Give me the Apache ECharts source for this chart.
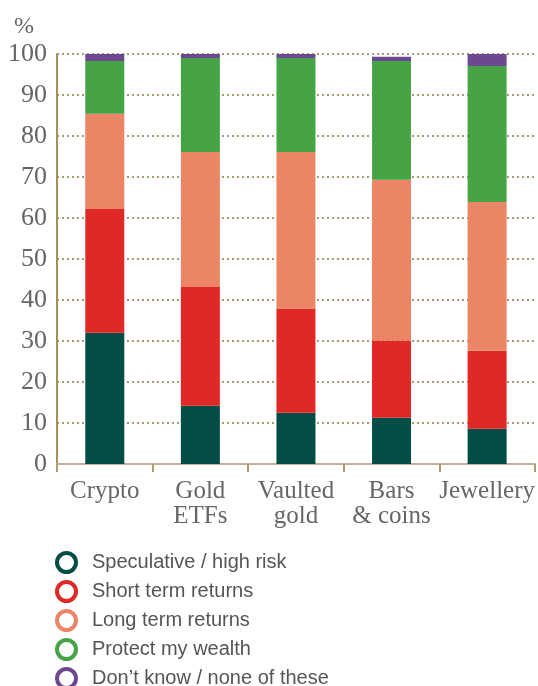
<!DOCTYPE html>
<html><head><meta charset="utf-8">
<script src="https://cdn.jsdelivr.net/npm/echarts@6/dist/echarts.min.js"></script>
<style>html,body{margin:0;padding:0;background:#fff}#c{width:538px;height:686px}</style>
</head><body><div id="c"></div>
<script>
const categories = ['Crypto', 'Gold\nETFs', 'Vaulted\ngold', 'Bars\n& coins', 'Jewellery'];
const seriesNames = ['Speculative / high risk', 'Short term returns', 'Long term returns', 'Protect my wealth', 'Don\u2019t know / none of these'];
const speculative = [32.0, 14.2, 12.5, 11.3, 8.6];
const shortTerm = [30.2, 29.0, 25.4, 18.8, 19.0];
const longTerm = [23.2, 32.9, 38.2, 39.2, 36.3];
const protectWealth = [12.9, 22.9, 22.9, 29.0, 33.2];
const dontKnow = [1.7, 1.0, 1.0, 1.0, 2.9];
const yTicks = [0, 10, 20, 30, 40, 50, 60, 70, 80, 90, 100];
const colors = ['#024d45', '#e02826', '#eb8566', '#46a447', '#6b4890'];
const values = [speculative, shortTerm, longTerm, protectWealth, dontKnow];

const chart = echarts.init(document.getElementById('c'), null, {renderer: 'canvas'});
const serif = '"Liberation Serif", "DejaVu Serif", serif';
const legendItems = seriesNames.map((n, i) => ({name: n, itemStyle: {color: '#fff', borderColor: colors[i], borderWidth: 4}}));
const legendBase = {
  orient: 'vertical', left: 55, padding: 0, itemWidth: 19, itemHeight: 19, itemGap: 6,
  icon: 'circle',
  textStyle: {fontFamily: '"Liberation Sans", Arial, sans-serif', fontSize: 20, color: '#555', padding: [0, 0, 0, 11]}
};
chart.setOption({
  animation: false,
  title: {text: '%', left: 9, top: 10, textStyle: {fontFamily: serif, fontSize: 24, fontWeight: 'normal', color: '#666'}},
  grid: {left: 57, right: 3, top: 54, bottom: 222, containLabel: false},
  legend: [
    Object.assign({}, legendBase, {top: 551, data: legendItems.slice(0, 4)}),
    Object.assign({}, legendBase, {top: 667, data: legendItems.slice(4)})
  ],
  xAxis: {
    type: 'category', data: categories,
    axisLine: {lineStyle: {color: '#c2b293', width: 2}},
    axisTick: {show: true, length: 8, lineStyle: {color: '#b09c70', width: 2}},
    axisLabel: {fontFamily: serif, fontSize: 25, lineHeight: 25, color: '#666', margin: 15, interval: 0}
  },
  yAxis: {
    type: 'value', min: 0, max: 100, interval: 10,
    axisLine: {show: true, lineStyle: {color: '#a8905a', width: 2}},
    axisTick: {show: false},
    splitLine: {lineStyle: {color: '#a8996f', type: [2, 3], width: 2}},
    axisLabel: {fontFamily: serif, fontSize: 26, color: '#666', margin: 10,
      formatter: v => yTicks.includes(v) ? String(v) : ''}
  },
  series: seriesNames.map((n, i) => ({
    name: n, type: 'bar', stack: 'total', barWidth: 39,
    itemStyle: {color: colors[i]},
    data: values[i]
  }))
});
</script></body></html>
